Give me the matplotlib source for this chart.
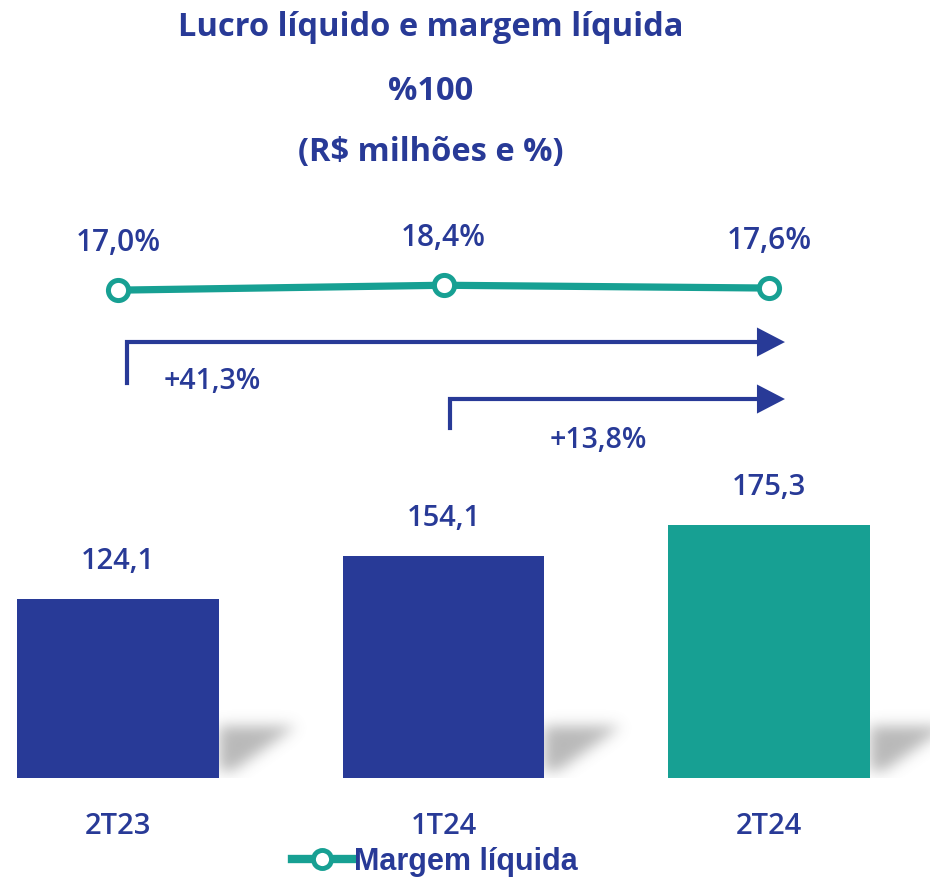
import matplotlib
matplotlib.use('Agg')
import numpy as np
import matplotlib.pyplot as plt
import matplotlib.transforms as mtransforms
from matplotlib.lines import Line2D
from matplotlib.patches import Polygon

# Data
periods = ['2T23', '1T24', '2T24']
lucro = [124.1, 154.1, 175.3]
margem = [17.0, 18.4, 17.6]
lucro_labels = ['124,1', '154,1', '175,3']
margem_labels = ['17,0%', '18,4%', '17,6%']
growth_labels = ['+41,3%', '+13,8%']
growth_from = [0, 1]

BLUE = '#283a97'
TEAL = '#17a093'
FONT = ['Open Sans', 'DejaVu Sans']


def shadow_image(w=110, h=70, sigma=7.0):
    """Soft grey wedge used as a cast shadow next to each bar."""
    v, u = np.mgrid[h - 1:-1:-1, 0:w]
    mask = ((v > 6) & (v < 52) & (u < v * 1.4 + 4)).astype(float)
    k = np.arange(-21, 22)
    g = np.exp(-k ** 2 / (2 * sigma ** 2))
    g /= g.sum()
    mask = np.apply_along_axis(lambda r: np.convolve(r, g, mode='same'), 1, mask)
    mask = np.apply_along_axis(lambda c: np.convolve(c, g, mode='same'), 0, mask)
    rgba = np.zeros((h, w, 4))
    rgba[..., :3] = 0.45
    rgba[..., 3] = mask * 0.5
    return rgba


fig = plt.figure(figsize=(9.3, 8.82), dpi=100)
ax = fig.add_axes([0, 0, 1, 1])
ax.axis('off')

x = list(range(len(periods)))
bar_colors = [BLUE, BLUE, TEAL]
width = 0.62

shadow = shadow_image()
for xi in x:
    xr = xi + width / 2
    ax.imshow(shadow, extent=(xr, xr + 110 / 325.5, 0, 70 / 1.443),
              aspect='auto', zorder=1, interpolation='bilinear')

ax.bar(x, lucro, width=width, color=bar_colors, zorder=2)

for xi, v, lab in zip(x, lucro, lucro_labels):
    ax.annotate(lab, (xi, v), xytext=(0, 27), textcoords='offset points',
                ha='center', va='center', fontsize=21, color=BLUE,
                family=FONT, fontweight='semibold')

for xi, lab in zip(x, periods):
    ax.annotate(lab, (xi, 0), xytext=(0, -35), textcoords='offset points',
                ha='center', va='center', fontsize=21, color=BLUE,
                family=FONT, fontweight='semibold')

ax.set_xlim(-0.3625, 2.4946)
ax.set_ylim(-72.1, 539.2)

# margin line
ax2 = ax.twinx()
ax2.set_ylim(-152.1, 99.9)
ax2.axis('off')
ax2.plot(x, margem, color=TEAL, lw=5.2, marker='o', markersize=14.5,
         markerfacecolor='white', markeredgecolor=TEAL, markeredgewidth=3.6,
         zorder=3)
for xi, v, lab in zip(x, margem, margem_labels):
    ax2.annotate(lab, (xi, v), xytext=(0, 34), textcoords='offset points',
                 ha='center', va='center', fontsize=21.5, color=BLUE,
                 family=FONT, fontweight='semibold')

# growth arrows
trans = mtransforms.blended_transform_factory(ax.transData, ax.transAxes)
arrow_y = [0.6122, 0.5476]
arrow_start = [0.5658, 0.5147]
arrow_dx = [0.028, 0.0185]
tip_x = x[-1] + 0.049
head_len = 0.086
head_h = 0.0165
label_pos = [(0.289, 0.568), (1.475, 0.5011)]
for i, g in enumerate(growth_from):
    x0 = g + arrow_dx[i]
    ax.plot([x0, x0, tip_x - head_len], [arrow_start[i], arrow_y[i], arrow_y[i]],
            color=BLUE, lw=3, transform=trans, solid_joinstyle='miter')
    ax.add_patch(Polygon([(tip_x - head_len, arrow_y[i] + head_h),
                          (tip_x, arrow_y[i]),
                          (tip_x - head_len, arrow_y[i] - head_h)],
                         closed=True, facecolor=BLUE, edgecolor='none',
                         transform=trans))
    lx, ly = label_pos[i]
    ax.text(lx, ly, growth_labels[i], transform=trans, ha='center', va='center',
            fontsize=20.5, color=BLUE, family=FONT, fontweight='semibold')

# titles
title_lines = ['Lucro líquido e margem líquida', '%100', '(R$ milhões e %)']
title_y = [28, 92, 153]
for t, py in zip(title_lines, title_y):
    fig.text(431 / 930, 1 - py / 882, t, ha='center', va='center',
             fontsize=23.5, color=BLUE, family=FONT, fontweight='bold')

# legend
handle = Line2D([], [], color=TEAL, lw=6, marker='o', markersize=13,
                markerfacecolor='white', markeredgecolor=TEAL,
                markeredgewidth=3.5)
leg = fig.legend([handle], ['Margem líquida'], loc='center',
                 bbox_to_anchor=(435 / 930, 1 - 862 / 882), frameon=False,
                 handlelength=2.0, handletextpad=0.05,
                 prop={'family': ['Liberation Sans', 'DejaVu Sans'],
                       'weight': 'bold', 'size': 22})
for t in leg.get_texts():
    t.set_color(BLUE)

fig.savefig('out.png', dpi=100)
